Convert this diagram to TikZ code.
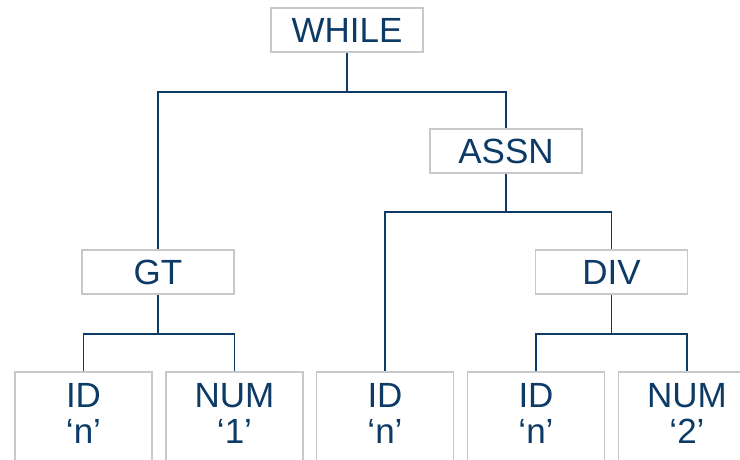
\documentclass[tikz,border=0pt]{standalone}
\usepackage{fontspec}
\setmainfont{Liberation Sans}
\definecolor{navy}{RGB}{13,59,102}
\definecolor{boxgray}{RGB}{200,200,200}
\newcommand{\leaftext}[2]{\begin{tabular}[t]{@{}c@{}}#1\\#2\end{tabular}}
\begin{document}
\begin{tikzpicture}[x=1pt,y=1pt,
  inner/.style={draw=boxgray, line width=1.8pt, fill=white, text=navy,
    minimum width=152pt, minimum height=44pt, text height=25pt, text depth=0pt,
    inner ysep=9.5pt, font=\fontsize{35}{36}\selectfont},
  leaf/.style={draw=boxgray, line width=1.8pt, fill=white, text=navy, anchor=north,
    minimum width=137pt, text height=25pt, text depth=72pt,
    inner ysep=11pt, font=\fontsize{35}{36}\selectfont},
  conn/.style={draw=navy, line width=1.8pt}]
\useasboundingbox (0,0) rectangle (740,460);
\clip (0,0) rectangle (740,460);
\node[inner] (while) at (347,430) {WHILE};
\node[inner] (assn) at (506,309) {ASSN};
\node[inner] (gt) at (158,188) {GT};
\node[inner] (div) at (611.5,188) {DIV};
\node[leaf] (l1) at (83.5,89) {\leaftext{ID}{‘n’}};
\node[leaf] (l2) at (234.5,89) {\leaftext{NUM}{‘1’}};
\node[leaf] (l3) at (385,89) {\leaftext{ID}{‘n’}};
\node[leaf] (l4) at (536,89) {\leaftext{ID}{‘n’}};
\node[leaf] (l5) at (687,89) {\leaftext{NUM}{‘2’}};
\draw[conn] (while.south) -- ++(0,-39) coordinate (wb);
\draw[conn] (wb) -| (gt.north);
\draw[conn] (wb) -| (assn.north);
\draw[conn] (assn.south) -- ++(0,-38) coordinate (ab);
\draw[conn] (ab) -| (l3.north);
\draw[conn] (ab) -| (div.north);
\draw[conn] (gt.south) -- ++(0,-39) coordinate (gb);
\draw[conn] (gb) -| (l1.north);
\draw[conn] (gb) -| (l2.north);
\draw[conn] (div.south) -- ++(0,-39) coordinate (db);
\draw[conn] (db) -| (l4.north);
\draw[conn] (db) -| (l5.north);
\end{tikzpicture}
\end{document}
